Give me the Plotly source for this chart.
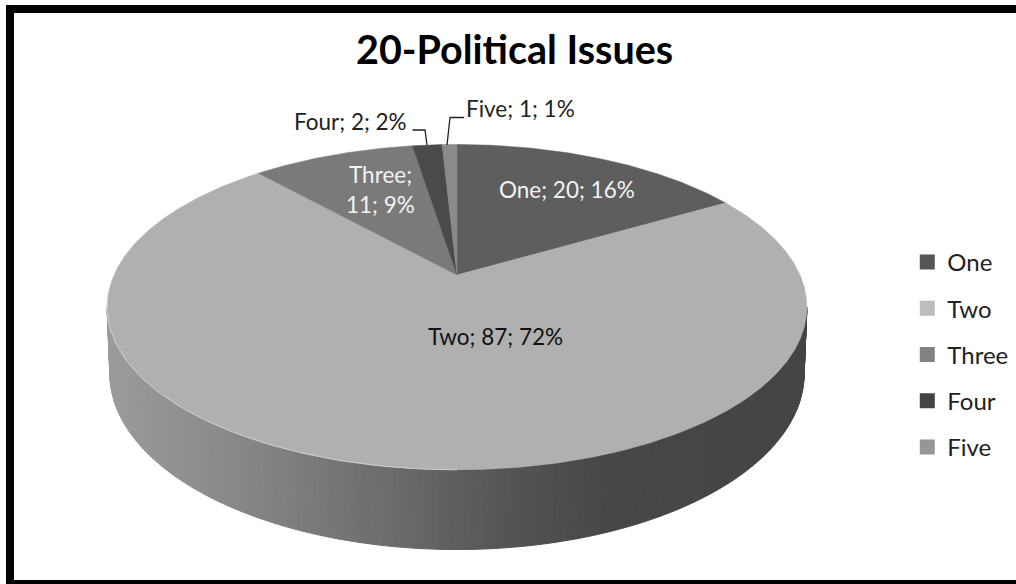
import numpy as np
import plotly.graph_objects as go

# ---- data ----
categories = ["One", "Two", "Three", "Four", "Five"]
values = [20, 87, 11, 2, 1]
percents = [16, 72, 9, 2, 1]
title_text = "20-Political Issues"

# ---- style ----
top_colors = ["#5e5e5e", "#b0b0b0", "#7a7a7a", "#4a4a4a", "#8a8a8a"]
legend_colors = ["#555555", "#bdbdbd", "#828282", "#444444", "#969696"]
side_x = [107, 250, 390, 500, 600, 810]
side_g = [156, 134, 108, 86, 72, 68]

W, H = 1016, 584
CX, APEX_Y, PERSP, YK, XK, DEPTH = 457, 275, 0.1975, -102.0, 343.0, 64.0


def project(phi, depth=0.0):
    """phi: clockwise radians from 12 o'clock, perspective disc projection."""
    u, v = np.sin(phi), np.cos(phi)
    d = 1 + PERSP * v
    return CX + XK * u / d * (1 - 0.008 * (depth > 0)), (YK * v + APEX_Y) / d + depth / d


fig = go.Figure()

# cylinder side: thin strips with a horizontal grey ramp
phi0 = np.arccos(-PERSP)
edges = np.linspace(phi0, 2 * np.pi - phi0, 181)
for a, b in zip(edges[:-1], edges[1:]):
    t = np.linspace(a, b, 3)
    x1, y1 = project(t)
    x2, y2 = project(t, DEPTH)
    xm = (x1.mean() + x2.mean()) / 2
    g = int(np.interp(xm, side_x, side_g))
    c = f"rgb({g},{g},{g})"
    fig.add_trace(go.Scatter(
        x=np.r_[x1, x2[::-1], x1[0]], y=np.r_[y1, y2[::-1], y1[0]],
        mode="lines", fill="toself", fillcolor=c, line=dict(color=c, width=1),
        hoverinfo="skip", showlegend=False))

# top face wedges, from the values
total = sum(values)
cum = np.cumsum([0] + values) / total * 2 * np.pi
for i, name in enumerate(categories):
    t = np.linspace(cum[i], cum[i + 1], max(4, int(values[i] * 6)))
    x, y = project(t)
    fig.add_trace(go.Scatter(
        x=np.r_[CX, x, CX], y=np.r_[APEX_Y, y, APEX_Y],
        mode="lines", fill="toself", fillcolor=top_colors[i],
        line=dict(color=top_colors[i], width=0.5),
        hoverinfo="skip", showlegend=False))

# pale rim highlight on the front-left edge
t = np.linspace(np.radians(180), np.radians(262), 60)
x, y = project(t)
fig.add_trace(go.Scatter(x=x, y=y, mode="lines", line=dict(color="#cfcfcf", width=1),
                         hoverinfo="skip", showlegend=False))

# leader lines
for lx, ly in [([412.5, 425, 427], [130, 130, 145]), ([464, 450, 447], [117.5, 117.5, 145])]:
    fig.add_trace(go.Scatter(x=lx, y=ly, mode="lines", line=dict(color="#222222", width=1.3),
                             hoverinfo="skip", showlegend=False))

# legend entries
for name, c in zip(categories, legend_colors):
    fig.add_trace(go.Scatter(x=[None], y=[None], mode="markers", name=name, legendgroup=name,
                             marker=dict(symbol="square", size=15, color=c)))

labels = [f"{c}; {v}; {p}%" for c, v, p in zip(categories, values, percents)]
label_pos = [(567, 189, "#f2f2f2"), (495, 336, "#111111"), (380, 189, "#f2f2f2"),
             (350, 121, "#222222"), (520, 108, "#222222")]
LABEL_FONT = "Lato, Carlito, sans-serif"
annotations = []
for i, (txt, (lx, ly, col)) in enumerate(zip(labels, label_pos)):
    if categories[i] == "Three":
        a, b = txt.split("; ", 1)
        parts = [(f"{a};", ly - 15), (b, ly + 15)]
    else:
        parts = [(txt, ly)]
    for part, py in parts:
        annotations.append(dict(x=lx, y=py, text=part, showarrow=False, xanchor="center",
                                yanchor="middle", font=dict(family=LABEL_FONT, size=22.5, color=col)))
annotations.append(dict(x=514, y=48, text=f"<b>{title_text}</b>", showarrow=False, xanchor="center",
                        yanchor="middle", font=dict(family="Lato, sans-serif", size=39.5, color="#000000")))

shapes = [
    dict(type="rect", x0=6, x1=W, y0=5, y1=13, fillcolor="#000000", line_width=0, layer="above"),
    dict(type="rect", x0=6, x1=14, y0=5, y1=H, fillcolor="#000000", line_width=0, layer="above"),
    dict(type="rect", x0=6, x1=W, y0=580, y1=H, fillcolor="#000000", line_width=0, layer="above"),
]

fig.update_layout(
    width=W, height=H, margin=dict(l=0, r=0, t=0, b=0, autoexpand=False),
    paper_bgcolor="#ffffff", plot_bgcolor="#ffffff",
    xaxis=dict(range=[0, W], visible=False, fixedrange=True),
    yaxis=dict(range=[H, 0], visible=False, fixedrange=True),
    shapes=shapes, annotations=annotations,
    legend=dict(x=0.893, y=0.589, xanchor="left", yanchor="top", traceorder="grouped",
                tracegroupgap=12, bgcolor="rgba(0,0,0,0)", itemclick=False, itemdoubleclick=False,
                font=dict(family="Lato, sans-serif", size=24, color="#222222")),
)
fig.write_html("out.html", config=dict(displayModeBar=False),
               post_script="document.body.style.margin='0';document.body.style.overflow='hidden';")
